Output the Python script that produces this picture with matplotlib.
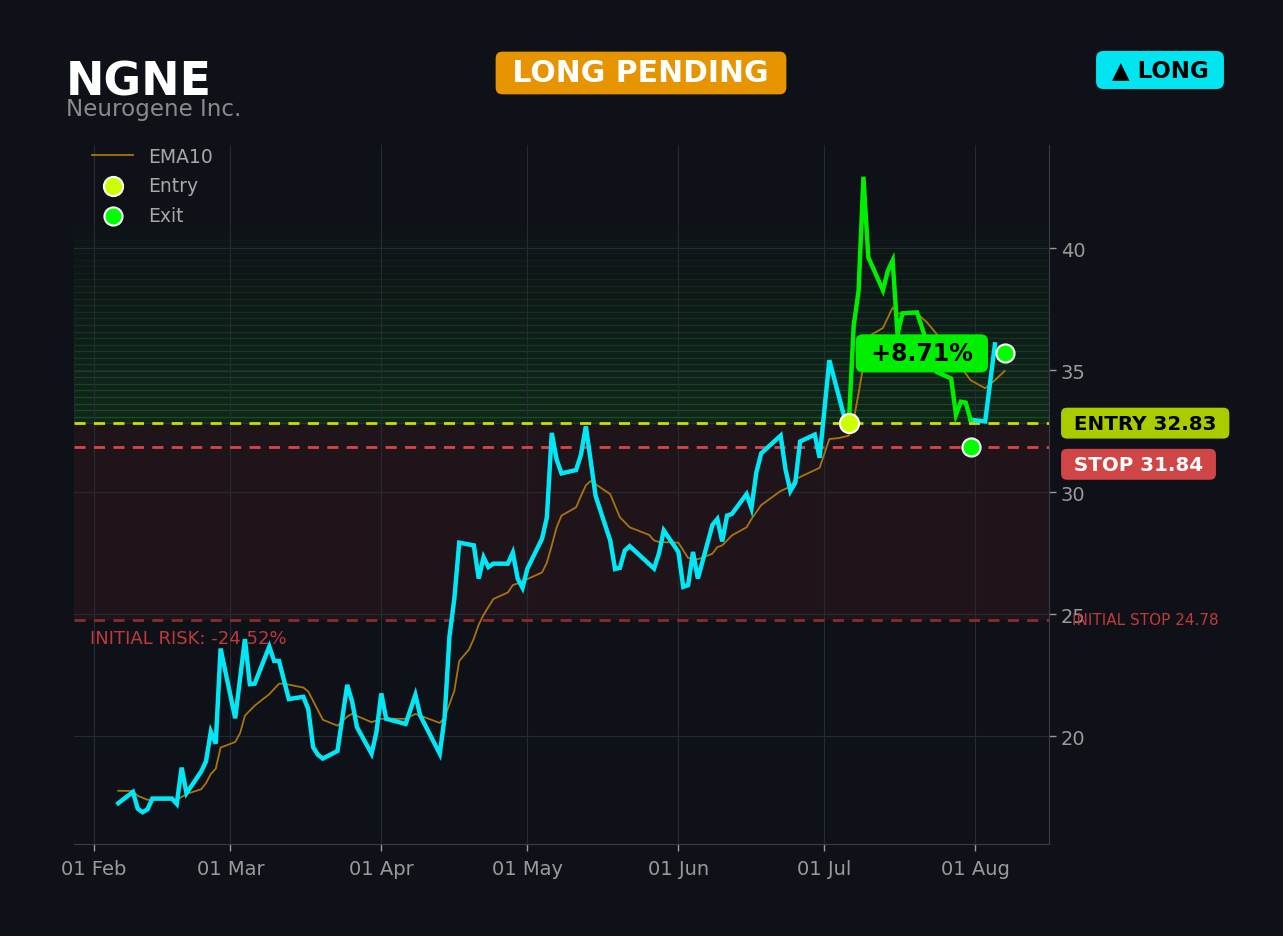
import matplotlib
matplotlib.use("Agg")
import matplotlib.pyplot as plt
import matplotlib.dates as mdates
import pandas as pd

# --- data ---
price_dates = [
    "2025-02-06", "2025-02-09", "2025-02-10", "2025-02-11", "2025-02-12", "2025-02-13",
    "2025-02-17", "2025-02-18", "2025-02-19", "2025-02-20", "2025-02-23", "2025-02-24",
    "2025-02-25", "2025-02-26", "2025-02-27", "2025-03-02", "2025-03-04", "2025-03-05",
    "2025-03-06", "2025-03-09", "2025-03-10", "2025-03-11", "2025-03-13", "2025-03-16",
    "2025-03-17", "2025-03-18", "2025-03-19", "2025-03-20", "2025-03-23", "2025-03-25",
    "2025-03-26", "2025-03-27", "2025-03-30", "2025-03-31", "2025-04-01", "2025-04-02",
    "2025-04-06", "2025-04-08", "2025-04-09", "2025-04-13", "2025-04-14", "2025-04-15",
    "2025-04-16", "2025-04-17", "2025-04-20", "2025-04-21", "2025-04-22", "2025-04-23",
    "2025-04-24", "2025-04-27", "2025-04-28", "2025-04-29", "2025-04-30", "2025-05-01",
    "2025-05-04", "2025-05-05", "2025-05-06", "2025-05-07", "2025-05-08", "2025-05-11",
    "2025-05-12", "2025-05-13", "2025-05-15", "2025-05-18", "2025-05-19", "2025-05-20",
    "2025-05-21", "2025-05-22", "2025-05-27", "2025-05-28", "2025-05-29", "2025-06-01",
    "2025-06-02", "2025-06-03", "2025-06-04", "2025-06-05", "2025-06-08", "2025-06-09",
    "2025-06-10", "2025-06-11", "2025-06-12", "2025-06-15", "2025-06-16", "2025-06-17",
    "2025-06-18", "2025-06-22", "2025-06-23", "2025-06-24", "2025-06-25", "2025-06-26",
    "2025-06-29", "2025-06-30", "2025-07-02", "2025-07-05", "2025-07-06", "2025-07-07",
    "2025-07-08", "2025-07-09", "2025-07-10", "2025-07-13", "2025-07-14", "2025-07-15",
    "2025-07-16", "2025-07-17", "2025-07-20", "2025-07-24", "2025-07-27", "2025-07-28",
    "2025-07-29", "2025-07-30", "2025-07-31", "2025-08-03", "2025-08-05",
]
price_close = [
    17.25, 17.71, 17.02, 16.88, 17.00, 17.44,
    17.44, 17.22, 18.71, 17.66, 18.54, 18.96,
    20.18, 19.69, 23.59, 20.73, 23.98, 22.13,
    22.15, 23.67, 23.08, 23.08, 21.52, 21.61,
    21.11, 19.55, 19.23, 19.08, 19.39, 22.10,
    21.42, 20.37, 19.28, 20.16, 21.75, 20.71,
    20.50, 21.69, 20.84, 19.28, 20.77, 24.09,
    25.65, 27.93, 27.82, 26.46, 27.33, 26.93,
    27.07, 27.07, 27.52, 26.46, 26.08, 26.87,
    28.09, 28.97, 32.43, 31.34, 30.77, 30.91,
    31.54, 32.70, 29.85, 28.02, 26.85, 26.90,
    27.61, 27.79, 26.87, 27.48, 28.43, 27.55,
    26.12, 26.19, 27.55, 26.46, 28.66, 28.90,
    27.98, 29.04, 29.11, 29.92, 29.34, 30.80,
    31.59, 32.32, 30.93, 30.05, 30.39, 32.08,
    32.36, 31.41, 35.41, 33.13, 32.83, 36.83,
    38.25, 42.93, 39.63, 38.28, 39.07, 39.50,
    36.46, 37.33, 37.37, 34.93, 34.66, 33.17,
    33.71, 33.67, 32.97, 32.90, 36.06,
]

ema_dates = [
    "2025-02-06", "2025-02-09", "2025-02-10", "2025-02-12", "2025-02-17", "2025-02-18",
    "2025-02-20", "2025-02-23", "2025-02-24", "2025-02-25", "2025-02-26", "2025-02-27",
    "2025-03-02", "2025-03-03", "2025-03-04", "2025-03-06", "2025-03-09", "2025-03-11",
    "2025-03-12", "2025-03-16", "2025-03-17", "2025-03-20", "2025-03-23", "2025-03-25",
    "2025-03-26", "2025-03-30", "2025-04-01", "2025-04-06", "2025-04-08", "2025-04-09",
    "2025-04-13", "2025-04-14", "2025-04-16", "2025-04-17", "2025-04-19", "2025-04-20",
    "2025-04-21", "2025-04-22", "2025-04-24", "2025-04-27", "2025-04-28", "2025-04-29",
    "2025-05-04", "2025-05-05", "2025-05-06", "2025-05-07", "2025-05-08", "2025-05-11",
    "2025-05-12", "2025-05-13", "2025-05-14", "2025-05-18", "2025-05-20", "2025-05-22",
    "2025-05-26", "2025-05-27", "2025-05-28", "2025-06-01", "2025-06-03", "2025-06-05",
    "2025-06-08", "2025-06-09", "2025-06-10", "2025-06-12", "2025-06-15", "2025-06-16",
    "2025-06-18", "2025-06-22", "2025-06-24", "2025-06-25", "2025-06-30", "2025-07-02",
    "2025-07-04", "2025-07-06", "2025-07-07", "2025-07-08", "2025-07-10", "2025-07-13",
    "2025-07-15", "2025-07-16", "2025-07-20", "2025-07-22", "2025-07-24", "2025-07-29",
    "2025-07-31", "2025-08-03", "2025-08-05", "2025-08-07",
]
ema10 = [
    17.76, 17.75, 17.55, 17.39, 17.40, 17.38,
    17.63, 17.82, 18.07, 18.45, 18.66, 19.53,
    19.76, 20.12, 20.84, 21.25, 21.72, 22.15,
    22.15, 21.99, 21.83, 20.67, 20.43, 20.80,
    20.91, 20.57, 20.71, 20.71, 20.91, 20.84,
    20.54, 20.77, 21.86, 23.08, 23.55, 24.00,
    24.57, 24.97, 25.62, 25.89, 26.19, 26.26,
    26.71, 27.11, 27.82, 28.56, 29.04, 29.38,
    29.85, 30.28, 30.46, 29.92, 28.97, 28.56,
    28.25, 28.02, 27.96, 27.93, 27.30, 27.25,
    27.48, 27.75, 27.82, 28.23, 28.56, 28.90,
    29.47, 30.05, 30.23, 30.53, 31.00, 32.18,
    32.22, 32.32, 32.97, 34.05, 36.38, 36.73,
    37.57, 37.33, 37.33, 36.97, 36.49, 35.13,
    34.59, 34.26, 34.59, 34.97,
]

entry_price = 32.83
stop_price = 31.84
initial_stop = 24.78
entry_date = "2025-07-06"
exit_date = "2025-07-31"
exit_dates = ["2025-07-31", "2025-08-07"]
exit_prices = [31.84, 35.69]
pnl_label_date = "2025-07-21"

ticker = "NGNE"
company = "Neurogene Inc."

BG = "#0e1117"
CYAN = "#00e8f5"
GREEN = "#00ee00"

px = pd.to_datetime(price_dates)
close = pd.Series(price_close, index=px)
ema = pd.Series(ema10, index=pd.to_datetime(ema_dates))
t_entry = pd.Timestamp(entry_date)
t_exit = pd.Timestamp(exit_date)

fig = plt.figure(figsize=(12.83, 9.37), dpi=100, facecolor=BG)
ax = fig.add_axes([74 / 1283, 1 - 845 / 937, (1049 - 74) / 1283, (845 - 146) / 937])
ax.set_facecolor(BG)

# risk zone and fading reward zone
risk = entry_price - initial_stop
ax.axhspan(initial_stop, entry_price, color="#ff4040", alpha=0.075, lw=0, zorder=0)
n_bands = 30
step = risk / n_bands
for i in range(n_bands):
    a = 0.13 * (1 - i / n_bands) + 0.01
    ax.axhspan(entry_price + i * step, entry_price + (i + 1) * step,
               facecolor="#22aa33", edgecolor="#33cc44", alpha=a, lw=0.9, zorder=0)

ax.axhline(entry_price, color="#c8e000", ls=(0, (4, 3)), lw=2, zorder=2)
ax.axhline(stop_price, color="#d94545", ls=(0, (4, 3)), lw=2, zorder=2)
ax.axhline(initial_stop, color="#8a2c2c", ls=(0, (4, 3)), lw=2, zorder=2)

ax.plot(ema.index, ema.values, color="#a87410", lw=1.3, label="EMA10", zorder=3)

before = close[close.index <= t_entry]
during = close[(close.index >= t_entry) & (close.index <= t_exit)]
after = close[close.index >= t_exit]
ax.plot(before.index, before.values, color=CYAN, lw=3.2, zorder=4, solid_joinstyle="miter")
ax.plot(after.index, after.values, color=CYAN, lw=3.2, zorder=4, solid_joinstyle="miter")
ax.plot(during.index, during.values, color=GREEN, lw=3.2, zorder=5, solid_joinstyle="miter")

ax.scatter([t_entry], [entry_price], s=190, color="#ccff00", edgecolor="white",
           lw=1.5, zorder=7, label="Entry")
ax.scatter(pd.to_datetime(exit_dates), exit_prices, s=170, color="#00ff00",
           edgecolor="white", lw=1.5, zorder=7, label="Exit")

pnl = (exit_prices[-1] / entry_price - 1) * 100
ax.annotate(f" +{pnl:.2f}% ", xy=(pd.Timestamp(pnl_label_date), exit_prices[-1]),
            ha="center", va="center", fontsize=17, fontweight="bold", color="black",
            bbox=dict(boxstyle="round,pad=0.3", fc=GREEN, ec="none"), zorder=8)

# right-hand price tags
ax.annotate(" ENTRY 32.83 ", xy=(1, entry_price), xycoords=("axes fraction", "data"),
            xytext=(18, 0), textcoords="offset pixels", ha="left", va="center",
            fontsize=14.3, fontweight="bold", color="black", annotation_clip=False,
            bbox=dict(boxstyle="round,pad=0.3", fc="#a8cc00", ec="none"))
ax.annotate(" STOP 31.84 ", xy=(1, stop_price), xycoords=("axes fraction", "data"),
            xytext=(18, -17), textcoords="offset pixels", ha="left", va="center",
            fontsize=14.3, fontweight="bold", color="white", annotation_clip=False,
            bbox=dict(boxstyle="round,pad=0.3", fc="#d04545", ec="none"))
ax.annotate("INITIAL STOP 24.78", xy=(1, initial_stop), xycoords=("axes fraction", "data"),
            xytext=(23, 0), textcoords="offset pixels", ha="left", va="center",
            fontsize=11, color="#c03a3a", annotation_clip=False)
ax.annotate(f"INITIAL RISK: {(initial_stop / entry_price - 1) * 100:.2f}%",
            xy=(0, initial_stop), xycoords=("axes fraction", "data"),
            xytext=(16, -18), textcoords="offset pixels", ha="left", va="center",
            fontsize=13, color="#c03a3a")

# axes styling
ax.yaxis.tick_right()
ax.xaxis.set_major_locator(mdates.MonthLocator())
ax.xaxis.set_major_formatter(mdates.DateFormatter("%d %b"))
ax.tick_params(colors="#9a9a9a", labelsize=14, length=5, width=1)
ax.tick_params(axis="x", pad=6)
ax.grid(True, color="#262a32", lw=0.8)
for side in ["top", "left"]:
    ax.spines[side].set_visible(False)
for side in ["right", "bottom"]:
    ax.spines[side].set_color("#3a3d44")

leg = ax.legend(loc="upper left", bbox_to_anchor=(0.005, 1.016), frameon=False,
                fontsize=13.5, labelcolor="#a8a8a8", borderaxespad=0.3,
                handlelength=2.2, labelspacing=0.55)

# header
fig.text(66 / 1283, 1 - 96 / 937, ticker, fontsize=33, fontweight="bold", color="white",
         va="baseline")
fig.text(66 / 1283, 1 - 116 / 937, company, fontsize=16.6, color="#8a8a8a", va="baseline")
fig.text(641 / 1283, 1 - 74 / 937, " LONG PENDING ", fontsize=21.5, fontweight="bold",
         color="white", ha="center", va="center",
         bbox=dict(boxstyle="round,pad=0.23", fc="#e69500", ec="none"))
fig.text(1160 / 1283, 1 - 71 / 937, " ▲ LONG ", fontsize=16.5, fontweight="bold",
         color="black", ha="center", va="center",
         bbox=dict(boxstyle="round,pad=0.33", fc="#00e5f0", ec="none"))

fig.savefig("out.png", dpi=100, facecolor=BG)
